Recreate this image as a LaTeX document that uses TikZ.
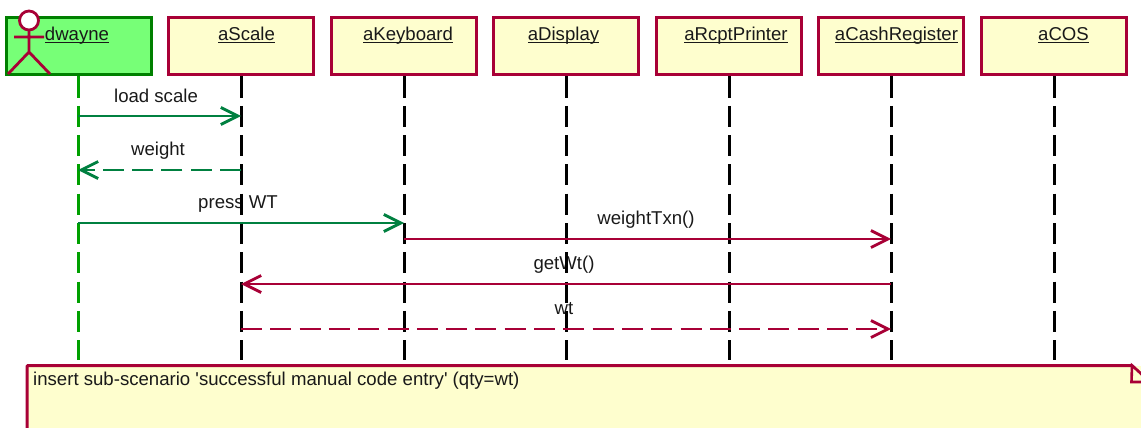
\documentclass[tikz,border=0pt]{standalone}
\usepackage{fontspec}
\setmainfont[Ligatures=NoCommon]{Liberation Sans}
\usepackage{tikz}
\usetikzlibrary{arrows.meta}
\definecolor{dark}{RGB}{168, 0, 54}
\definecolor{pale}{RGB}{254, 254, 206}
\definecolor{lime}{RGB}{119, 255, 119}
\definecolor{edge}{RGB}{0, 128, 0}
\definecolor{life}{RGB}{0, 160, 0}
\definecolor{call}{RGB}{0, 128, 64}
\tikzset{
  objbox/.style={draw=dark, fill=pale, line width=3pt, minimum width=145pt, minimum height=57pt, inner sep=0pt},
  msgtext/.style={font=\fontsize{18.6}{22}\selectfont, text=black!90, inner sep=0pt},
  lifeline/.style={line width=3pt, dash pattern=on 21pt off 8.3pt},
  msg/.style={line width=2.8pt, ->, >={Straight Barb[length=17pt, width=17pt, line width=2.8pt]}},
  reply/.style={msg, dash pattern=on 21pt off 8.3pt}
}

\begin{document}
\begin{tikzpicture}[x=1pt, y=-1pt]
  \useasboundingbox (0, 0) rectangle (1141, 428);
  \clip (0, 0) rectangle (1141, 428);

  \node [objbox, draw=edge, fill=lime] (dwayne) at (78.5, 46.5) {};
  \foreach \name/\cx in {aScale/241, aKeyboard/404, aDisplay/566, aRcptPrinter/729, aCashRegister/891, aCOS/1054}
    \node [objbox] (\name) at (\cx, 46.5) {};

  \foreach \name/\tx in {dwayne/77, aScale/246.5, aKeyboard/408, aDisplay/563.5, aRcptPrinter/736, aCashRegister/896.5, aCOS/1063.5}
    \node [msgtext, anchor=base] (\name Label) at (\tx, 40.5) {\underline{\smash{\name}}};

  \draw [dark, line width=2.8pt, fill=white] (29, 20.5) circle (9.5);
  \draw [dark, line width=2.8pt] (14, 37) -- (44, 37) (29, 30) -- (29, 52) (8, 74) -- (29, 52) -- (50, 74);

  \node [msgtext] (loadLabel) at (156, 95.5) {load scale};
  \node [msgtext] (weightLabel) at (158, 150.5) {weight};
  \node [msgtext] (pressLabel) at (238, 204) {press WT};
  \node [msgtext] (txnLabel) at (646, 219.5) {weightTxn()};
  \node [msgtext] (getLabel) at (564, 264.5) {getWt()};
  \node [msgtext] (wtLabel) at (564, 309) {wt};

  \coordinate (lifeEnd) at (0, 360);
  \draw [lifeline, life] (dwayne.south -| 78, 0) -- (78, 360);
  \foreach \name in {aScale, aKeyboard, aDisplay, aRcptPrinter, aCashRegister, aCOS}
    \draw [lifeline, black] (\name.south) -- (\name.south |- lifeEnd);

  \draw [msg, call] (78, 116) -- (aScale |- 0, 116);
  \draw [reply, call] (aScale |- 0, 170) -- (78, 170);
  \draw [msg, call] (78, 223) -- (aKeyboard |- 0, 223);
  \draw [msg, dark] (aKeyboard |- 0, 239) -- (aCashRegister |- 0, 239);
  \draw [msg, dark] (aCashRegister |- 0, 284) -- (aScale |- 0, 284);
  \draw [reply, dark] (aScale |- 0, 329) -- (aCashRegister |- 0, 329);

  \fill [pale] (27, 366) rectangle (1141, 428);
  \draw [dark, line width=3pt, rounded corners=1pt] (27, 440) -- (27, 365.5) -- (1132, 365.5) -- (1150, 383);
  \draw [dark, line width=2.6pt, fill=pale] (1132, 365.5) -- (1131.5, 382) -- (1150, 382) -- cycle;
  \node [msgtext, anchor=west] (noteLabel) at (33, 380.5) {insert sub-scenario \textquotesingle successful manual code entry\textquotesingle{} (qty=wt)};
\end{tikzpicture}
\end{document}
